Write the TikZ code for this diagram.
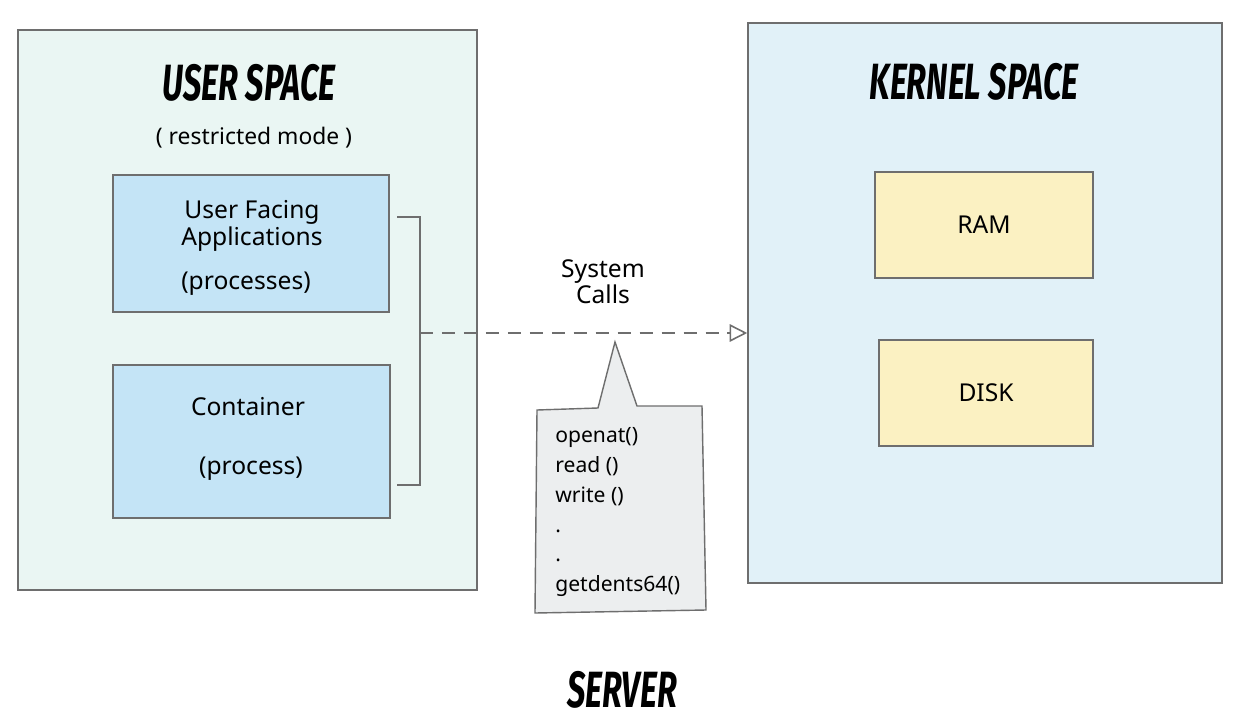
\documentclass[tikz,border=0pt]{standalone}
\usepackage{fontspec}
\setmainfont{Noto Sans}
\newfontfamily\titlefont{Fira Sans}
\usetikzlibrary{arrows.meta}
\newlength\px
\setlength\px{0.02cm}
\definecolor{stroke}{HTML}{6E6E6E}
\definecolor{userfill}{HTML}{EAF6F3}
\definecolor{kernfill}{HTML}{E1F1F8}
\definecolor{procfill}{HTML}{C4E4F6}
\definecolor{memfill}{HTML}{FBF1C2}
\definecolor{callfill}{HTML}{ECEEEF}
\tikzset{
  area/.style={draw=stroke, line width=0.9pt, inner sep=0pt},
  proc/.style={draw=stroke, line width=0.8pt, fill=procfill, inner sep=0pt, align=center},
  mem/.style={draw=stroke, line width=0.8pt, fill=memfill, inner sep=0pt, align=center, font=\fontsize{14}{16}\selectfont},
  title/.style={font=\titlefont\bfseries\itshape\fontsize{29}{32}\selectfont, xscale=0.64, inner sep=0pt},
  label/.style={align=center, inner sep=0pt, font=\fontsize{14}{15}\selectfont},
  wire/.style={draw=stroke, line width=0.9pt},
}
\begin{document}
\begin{tikzpicture}[x=1\px, y=-1\px]
\useasboundingbox (0,0) rectangle (1244,720);
\fill[white] (0,0) rectangle (1244,720);
% areas
\node[area, fill=userfill, minimum width=459\px, minimum height=560\px] (user) at (247.5,310) {};
\node[area, fill=kernfill, minimum width=474\px, minimum height=560\px] (kernel) at (985,303) {};
% titles
\node[title] (usertitle) at (249,83) {USER SPACE};
\node[title] (kerntitle) at (974,82) {KERNEL SPACE};
\node[label, font=\fontsize{13}{15}\selectfont] (restricted) at (254,138) {( restricted mode )};
% processes
\node[proc, minimum width=276\px, minimum height=137\px] (ufa) at (251,243.5) {};
\node[label] (ufatext) at (252,226) {User Facing\\Applications};
\node[label] (ufaproc) at (246,284) {(processes)};
\node[proc, minimum width=277\px, minimum height=153\px] (cont) at (251.5,441.5) {};
\node[label] (conttext) at (248,407) {Container};
\node[label] (contproc) at (251,469) {(process)};
% memory
\node[mem, minimum width=218\px, minimum height=106\px] (ram) at (984,225) {RAM};
\node[mem, minimum width=214\px, minimum height=106\px] (disk) at (986,393) {DISK};
% bracket
\coordinate (b1) at (397,217);
\coordinate (b2) at (420,217);
\coordinate (b3) at (420,485);
\coordinate (b4) at (397,485);
\coordinate (bm) at (420,333);
\draw[wire] (b1) -- (b2) -- (b3) -- (b4);
% system call arrow
\draw[wire, dash pattern=on 7.4pt off 5.1pt, -{Triangle[open, length=10pt, width=10pt, line width=0.9pt]}] (bm) -- (kernel.west |- bm);
\node[label] (syscalls) at (603,282) {System\\Calls};
% callout
\draw[draw=stroke, line width=0.8pt, fill=callfill] (537,410) -- (598,408) -- (615,342) -- (637,406) -- (702,406) -- (706,610) -- (535,613) -- cycle;
\node[anchor=north west, align=left, inner sep=0pt, font=\fontsize{12}{17}\selectfont] (calls) at (555,427) {openat()\\read ()\\write ()\\.\\.\\getdents64()};
% server
\node[title] (server) at (622,690) {SERVER};
\end{tikzpicture}
\end{document}
